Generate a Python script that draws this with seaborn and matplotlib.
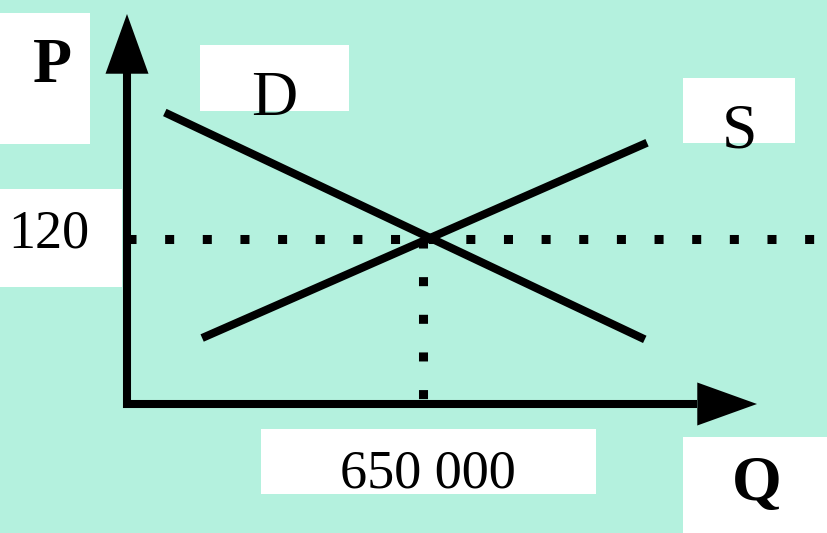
import numpy as np
import pandas as pd
import matplotlib
matplotlib.use('Agg')
import matplotlib.pyplot as plt
from matplotlib.patches import Rectangle
import seaborn as sns

# ---- chart values ----
curve = ['D', 'D', 'S', 'S']
quantity = [83000, 1137000, 165000, 1142000]
price = [212, 47, 48, 190]
eq_quantity = 650000
eq_price = 120
eq_quantity_label = '650 000'
eq_price_label = '120'
axis_labels = ['P', 'Q']

# ---- layout (pixels of the 827x533 canvas) ----
W, H = 827, 533
ORIGIN_PX = (127, 404)
EQ_PX = (423, 239)
BG = '#b4f1de'

sns.set_theme(style='white')
plt.rcParams['font.family'] = ['Liberation Serif', 'DejaVu Serif']

fig = plt.figure(figsize=(W / 100, H / 100), dpi=100)
fig.patch.set_facecolor(BG)
ax = fig.add_axes([0, 0, 1, 1])
ax.set_facecolor(BG)
ax.axis('off')

# data scale: pixels per unit
kx = (EQ_PX[0] - ORIGIN_PX[0]) / eq_quantity
ky = (ORIGIN_PX[1] - EQ_PX[1]) / eq_price
ax.set_xlim(-ORIGIN_PX[0] / kx, (W - ORIGIN_PX[0]) / kx)
ax.set_ylim(-(H - ORIGIN_PX[1]) / ky, ORIGIN_PX[1] / ky)

def px_q(x):
    return (x - ORIGIN_PX[0]) / kx

def px_p(y):
    return (ORIGIN_PX[1] - y) / ky

def box(x0, y0, x1, y1):
    ax.add_patch(Rectangle((x0 / W, 1 - y1 / H), (x1 - x0) / W, (y1 - y0) / H,
                           transform=ax.transAxes, facecolor='white',
                           edgecolor='none', zorder=1))

def label(x, y, s, size, weight='normal'):
    ax.text(x / W, 1 - y / H, s, transform=ax.transAxes, ha='center',
            va='baseline', fontsize=size, fontweight=weight, color='black',
            zorder=5)

# white label boxes
box(0, 13, 90, 144)      # P
box(200, 45, 349, 111)   # D
box(683, 78, 795, 143)   # S
box(0, 189, 122, 287)    # 120
box(261, 429, 596, 494)  # 650 000
box(683, 437, 827, 533)  # Q

# dotted guides
dot_lw = 6.5
ax.plot([0, px_q(W + 10)], [eq_price, eq_price], color='black', lw=dot_lw,
        linestyle=(0, (1, 3.17)), dash_capstyle='butt', zorder=2)
ax.plot([eq_quantity, eq_quantity], [eq_price, 0], color='black', lw=dot_lw,
        linestyle=(0, (1, 3.17)), dash_capstyle='butt', zorder=2)

# supply and demand
df = pd.DataFrame({'curve': curve, 'Q': quantity, 'P': price})
sns.lineplot(data=df, x='Q', y='P', hue='curve', palette=['black', 'black'],
             legend=False, lw=5.8, solid_capstyle='butt', ax=ax, zorder=3)

# axes with arrow heads
axis_lw = 5.8
y_base, y_tip = px_p(73), px_p(14)
x_base, x_tip = px_q(697), px_q(757)
ax.plot([0, 0, x_base], [y_base, 0, 0], color='black', lw=axis_lw,
        solid_joinstyle='miter', solid_capstyle='butt', zorder=4)
head = dict(arrowstyle='-|>,head_length=1.0,head_width=0.36', mutation_scale=43,
            lw=0, color='black', shrinkA=0, shrinkB=0)
ax.annotate('', xy=(0, y_tip), xytext=(0, y_base - 5), arrowprops=head, zorder=4)
ax.annotate('', xy=(x_tip, 0), xytext=(x_base - 20000, 0), arrowprops=head, zorder=4)

# texts
label(52, 82, axis_labels[0], 46, 'bold')
label(274, 115, 'D', 46)
label(739, 147, 'S', 46)
label(49, 248, eq_price_label, 39)
label(428, 488, eq_quantity_label, 39)
label(757, 500, axis_labels[1], 46, 'bold')

fig.savefig('out.png', dpi=100, facecolor=BG)
